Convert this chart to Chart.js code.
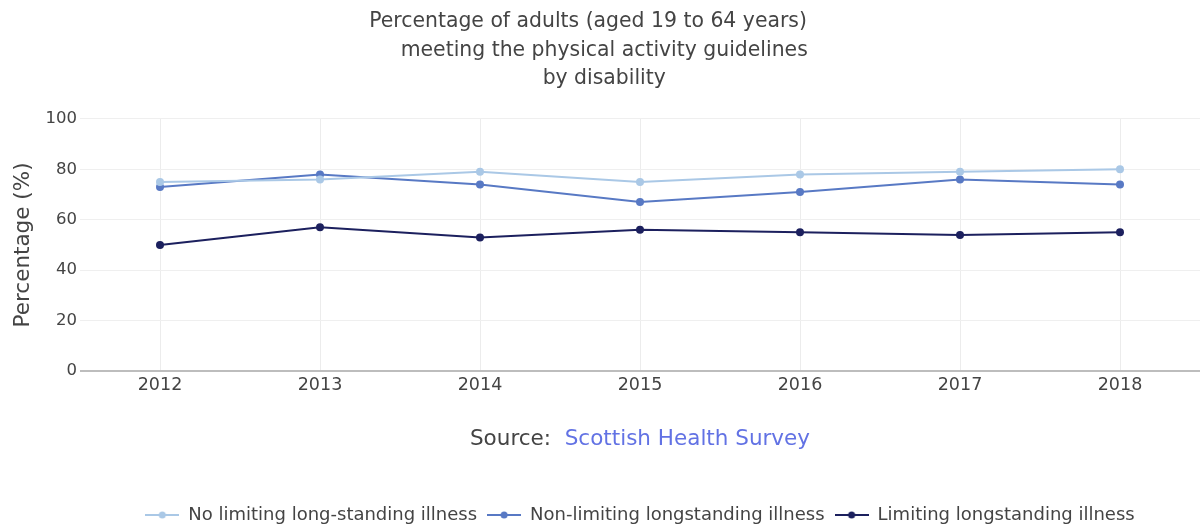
<!DOCTYPE html>
<html>
<head>
<meta charset="utf-8">
<script src="https://cdn.jsdelivr.net/npm/chart.js@4.4.0/dist/chart.umd.min.js"></script>
<style>
  html, body { margin: 0; padding: 0; background: #fff; }
  #wrap { width: 1200px; height: 526px; }
</style>
</head>
<body>
<div id="wrap"><canvas id="chart" width="1200" height="526"></canvas></div>
<script>
  // Dados
  var ANOS = ["2012", "2013", "2014", "2015", "2016", "2017", "2018"];
  var SEM_LIMITE = [75, 76, 79, 75, 78, 79, 80];
  var NAO_LIMITANTE = [73, 78, 74, 67, 71, 76, 74];
  var LIMITANTE = [50, 57, 53, 56, 55, 54, 55];
  var Y_TICKS = [0, 20, 40, 60, 80, 100];

  var TITULO = ["Percentage of adults (aged 19 to 64 years)    ", " meeting the physical activity guidelines", " by disability"];
  var SERIES = ["No limiting long-standing illness", "Non-limiting longstanding illness", "Limiting longstanding illness"];
  var CORES = ["#aac8e6", "#5879c4", "#1c205e"];
  var FONTE = "'DejaVu Sans', sans-serif";
  var TEXTO = "#444";

  // símbolo da legenda: linha com ponto no meio
  function simbolo(cor) {
    var c = document.createElement("canvas");
    c.width = 34; c.height = 10;
    var g = c.getContext("2d");
    g.strokeStyle = cor; g.lineWidth = 2;
    g.beginPath(); g.moveTo(0, 5); g.lineTo(34, 5); g.stroke();
    g.fillStyle = cor;
    g.beginPath(); g.arc(17, 5, 3.5, 0, Math.PI * 2); g.fill();
    return c;
  }
  var SIMBOLOS = CORES.map(simbolo);

  function serie(i, dados) {
    return {
      label: SERIES[i],
      data: dados,
      borderColor: CORES[i],
      backgroundColor: CORES[i],
      borderWidth: 2,
      pointRadius: 4,
      pointHoverRadius: 4,
      pointBorderWidth: 0,
      pointStyle: "circle",
      tension: 0
    };
  }

  // texto "Source:" abaixo do eixo x
  var fontePlugin = {
    id: "fonte",
    afterDraw: function (chart) {
      var ctx = chart.ctx;
      var area = chart.chartArea;
      var cx = (area.left + area.right) / 2;
      ctx.save();
      ctx.font = "21.5px " + FONTE;
      ctx.textBaseline = "middle";
      var a = "Source:  ", b = "Scottish Health Survey";
      var wa = ctx.measureText(a).width, wb = ctx.measureText(b).width;
      var x0 = cx - (wa + wb) / 2;
      ctx.textAlign = "left";
      ctx.fillStyle = TEXTO;
      ctx.fillText(a, x0, 439);
      ctx.fillStyle = "#6272e4";
      ctx.fillText(b, x0 + wa, 439);
      ctx.restore();
    }
  };

  new Chart(document.getElementById("chart"), {
    type: "line",
    data: {
      labels: ANOS,
      datasets: [serie(0, SEM_LIMITE), serie(1, NAO_LIMITANTE), serie(2, LIMITANTE)]
    },
    plugins: [fontePlugin],
    options: {
      responsive: false,
      animation: false,
      layout: { autoPadding: false, padding: { left: 0, right: -2, top: 0, bottom: 0 } },
      scales: {
        x: {
          offset: true,
          afterFit: function (s) { s.height = 125; s.paddingRight = 0; s.paddingLeft = 0; },
          grid: { color: "#ececec", lineWidth: 1, drawTicks: false, offset: false },
          border: { display: false },
          ticks: { color: TEXTO, padding: 3.5, font: { family: FONTE, size: 17.5 } }
        },
        y: {
          min: 0, max: 100,
          afterFit: function (s) { s.width = 80; },
          afterBuildTicks: function (s) { s.ticks = Y_TICKS.map(function (v) { return { value: v }; }); },
          grid: {
            drawTicks: false,
            color: function (c) { return c.tick && c.tick.value === 0 ? "#bdbdbd" : "#efefef"; },
            lineWidth: function (c) { return c.tick && c.tick.value === 0 ? 2 : 1; }
          },
          border: { display: false },
          ticks: { color: TEXTO, padding: 3, font: { family: FONTE, size: 16.5 } },
          title: {
            display: true, text: "Percentage (%)", color: TEXTO,
            font: { family: FONTE, size: 21.5 }, padding: { top: 11, bottom: 0 }
          }
        }
      },
      plugins: {
        title: {
          display: true, text: TITULO, color: TEXTO,
          font: { family: FONTE, size: 20.4, weight: "normal", lineHeight: 1.4 },
          padding: { top: 7.5, bottom: 25.75 }
        },
        legend: {
          position: "bottom",
          fullSize: false,
          maxHeight: 30,
          labels: {
            usePointStyle: true, pointStyleWidth: 34,
            color: TEXTO, padding: 10,
            font: { family: FONTE, size: 18 },
            generateLabels: function (chart) {
              var itens = Chart.defaults.plugins.legend.labels.generateLabels(chart);
              itens.forEach(function (it, i) { it.pointStyle = SIMBOLOS[i]; });
              return itens;
            }
          }
        },
        tooltip: { enabled: false }
      }
    }
  });
</script>
</body>
</html>
